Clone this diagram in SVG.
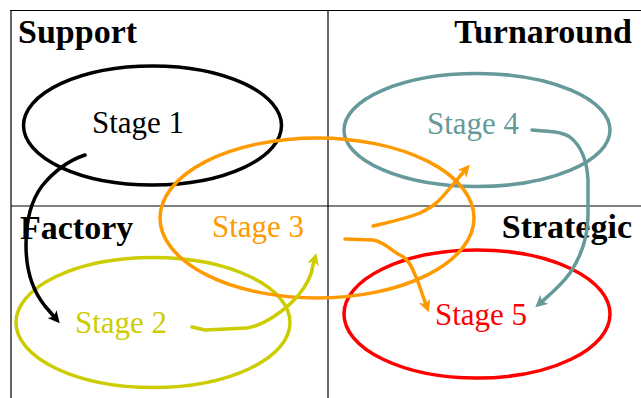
<svg xmlns="http://www.w3.org/2000/svg" width="641" height="398" viewBox="0 0 641 398">
<style>
.grid{stroke:#000;stroke-width:1.2;fill:none}
.hdr{font-weight:bold;font-size:34px;fill:#000}
.lbl{font-size:31px}
.ell{fill:none;stroke-width:3.5}
.con{fill:none;stroke-width:3.5;stroke-linecap:round;stroke-linejoin:round}
</style>
<defs>
<marker id="aBlack" markerUnits="userSpaceOnUse" markerWidth="12" markerHeight="12" refX="7" refY="6" orient="auto"><path d="M0,0 L12,6 L0,12 L3,6 z" fill="#000"/></marker>
<marker id="aYellow" markerUnits="userSpaceOnUse" markerWidth="12" markerHeight="12" refX="7" refY="6" orient="auto"><path d="M0,0 L12,6 L0,12 L3,6 z" fill="#CCCC00"/></marker>
<marker id="aOrange" markerUnits="userSpaceOnUse" markerWidth="12" markerHeight="12" refX="7" refY="6" orient="auto"><path d="M0,0 L12,6 L0,12 L3,6 z" fill="#FF9900"/></marker>
<marker id="aTeal" markerUnits="userSpaceOnUse" markerWidth="12" markerHeight="12" refX="7" refY="6" orient="auto"><path d="M0,0 L12,6 L0,12 L3,6 z" fill="#669999"/></marker>
</defs>
<rect width="641" height="398" fill="#fff"/>
<g id="grid" font-family="Liberation Serif, Times New Roman, serif">
<line class="grid" x1="10" y1="10.5" x2="641" y2="10.5"/>
<line class="grid" x1="11" y1="10" x2="11" y2="398"/>
<line class="grid" x1="328" y1="10" x2="328" y2="398"/>
<line class="grid" x1="11" y1="206" x2="641" y2="206"/>
<text class="hdr" x="18" y="43">Support</text>
<text class="hdr" x="632" y="43" text-anchor="end">Turnaround</text>
<text class="hdr" x="20" y="239">Factory</text>
<text class="hdr" x="632" y="238" text-anchor="end">Strategic</text>
</g>
<g id="stage1" font-family="Liberation Serif, Times New Roman, serif">
<ellipse class="ell" cx="152.5" cy="125.5" rx="129" ry="59.5" stroke="#000"/>
<text class="lbl" x="92" y="133" fill="#000">Stage 1</text>
</g>
<g id="stage4" font-family="Liberation Serif, Times New Roman, serif">
<ellipse class="ell" cx="477" cy="130" rx="133" ry="56.5" stroke="#669999"/>
<text class="lbl" x="427" y="133.5" fill="#669999">Stage 4</text>
</g>
<g id="stage2" font-family="Liberation Serif, Times New Roman, serif">
<ellipse class="ell" cx="153" cy="322.5" rx="137" ry="65" stroke="#CCCC00"/>
<text class="lbl" x="75" y="333" fill="#CCCC00">Stage 2</text>
</g>
<g id="stage5" font-family="Liberation Serif, Times New Roman, serif">
<ellipse class="ell" cx="477" cy="314" rx="133" ry="64" stroke="#FF0000"/>
<text class="lbl" x="435" y="325" fill="#FF0000">Stage 5</text>
</g>
<g id="stage3" font-family="Liberation Serif, Times New Roman, serif">
<ellipse class="ell" cx="317" cy="218" rx="157" ry="80" stroke="#FF9900"/>
<text class="lbl" x="212" y="237" fill="#FF9900">Stage 3</text>
</g>
<g id="connectors">
<path class="con" stroke="#000" marker-end="url(#aBlack)" d="M85,155 C70,160 55,170 42,186 C30,202 26,225 26,245 C26,270 32,290 45,306 L56.5,319.5"/>
<path class="con" stroke="#CCCC00" marker-end="url(#aYellow)" d="M192,327 L205,330 L247,328 C265,325 285,310 297,297 C307,285 312,275 313,265 L315,258"/>
<path class="con" stroke="#FF9900" marker-end="url(#aOrange)" d="M373,226 C390,222 405,219 420,213 C435,206 440,200 450,188 L466.5,168.5"/>
<path class="con" stroke="#FF9900" marker-end="url(#aOrange)" d="M345,239 L373,240 C385,242 390,250 400,255 C410,260 413,270 418,282 L427,307.5"/>
<path class="con" stroke="#669999" marker-end="url(#aTeal)" d="M532,130 C545,131 560,131 570,137 C580,145 587,160 588,180 L588,215 C588,240 580,258 570,273 C560,287 548,296 539,304"/>
</g>
</svg>
